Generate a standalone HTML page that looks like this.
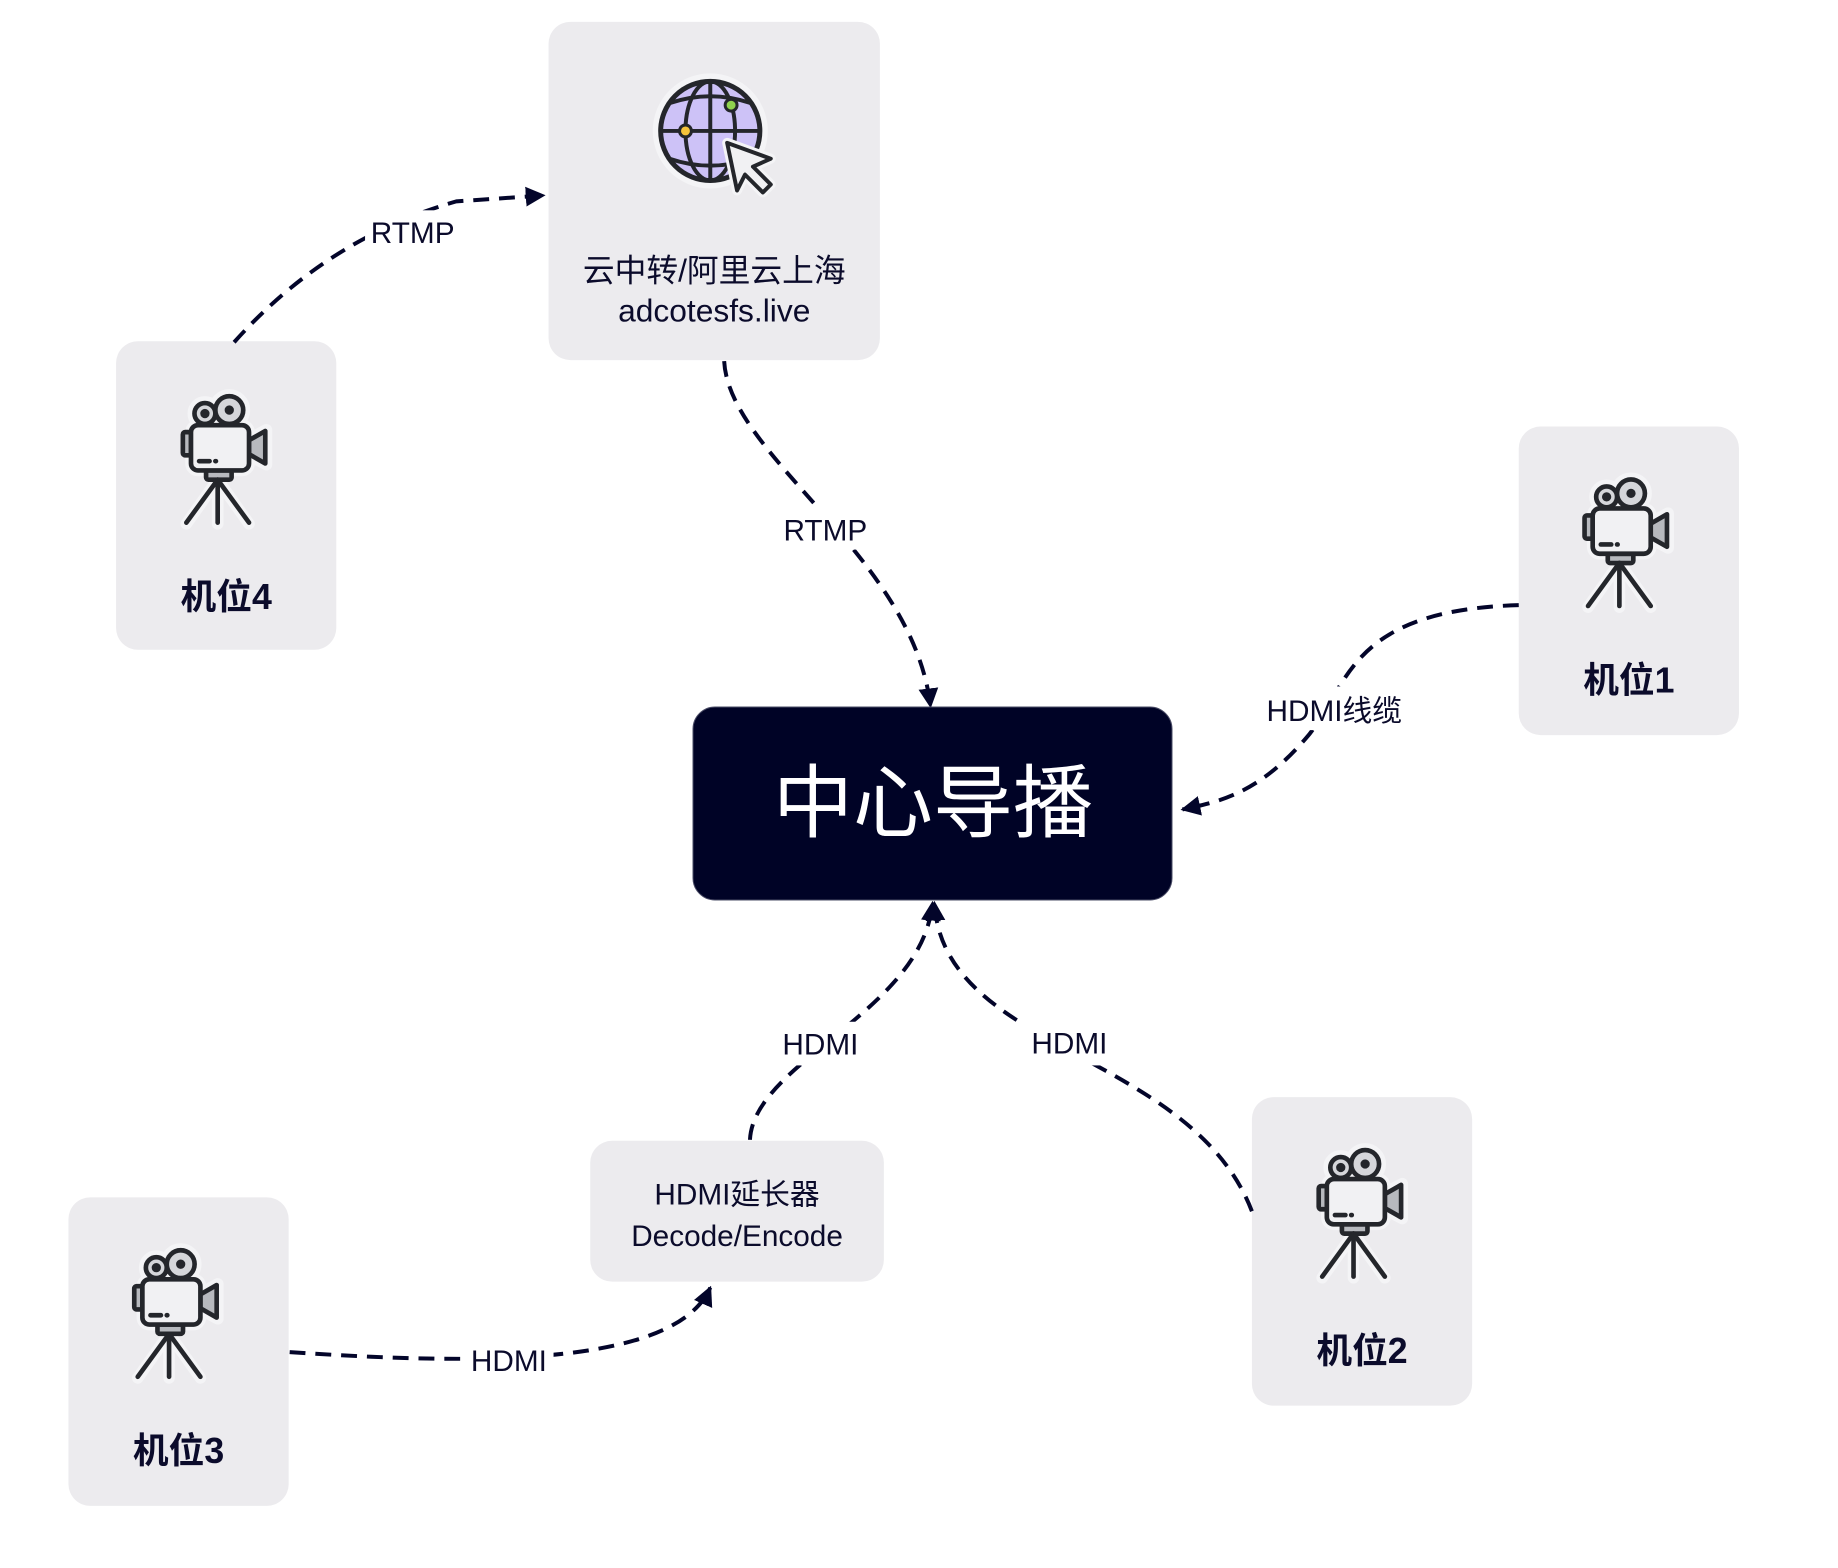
<!DOCTYPE html>
<html><head><meta charset="utf-8"><style>
html,body{margin:0;padding:0;background:#fff;}
svg{display:block;}
text{font-family:"Liberation Sans","Noto Sans CJK SC",sans-serif;fill:#0b0b2b;}
</style></head><body>
<svg width="1838" height="1568" viewBox="0 0 1838 1568" xmlns="http://www.w3.org/2000/svg">
<defs>
<marker id="ah" viewBox="0 0 10 10" refX="9" refY="5" markerWidth="5" markerHeight="5" orient="auto-start-reverse" markerUnits="strokeWidth">
<path d="M0,0 L10,5 L0,10 z" fill="#03052a"/>
</marker>
<g id="cam">
<g stroke="#f4f4f6" stroke-width="10" stroke-linecap="round" stroke-linejoin="round" fill="#f4f4f6">
<circle cx="21" cy="17" r="10"/><circle cx="42" cy="14" r="13"/>
<rect x="9" y="27" width="50" height="39" rx="6"/>
<path d="M59 39 L74 31 L74 61 L59 53 z"/>
<line x1="32" y1="74" x2="5" y2="112"/><line x1="32" y1="74" x2="32" y2="112"/><line x1="32" y1="74" x2="59" y2="112"/>
</g>
<g stroke="#24262b" stroke-width="4" stroke-linecap="round" stroke-linejoin="round">
<circle cx="21" cy="17" r="9" fill="#d5d6da"/><circle cx="42" cy="14" r="12" fill="#d5d6da"/>
<circle cx="21" cy="17" r="2" fill="#24262b"/><circle cx="42" cy="14" r="2" fill="#24262b"/>
<rect x="2" y="33" width="7" height="20" rx="2" fill="#b7b9be"/>
<path d="M59 40 L73 32 L73 60 L59 52 z" fill="#b7b9be"/>
<rect x="22" y="66" width="22" height="8" rx="2" fill="#b7b9be"/>
<line x1="32" y1="74" x2="5" y2="111"/><line x1="32" y1="74" x2="32" y2="111"/><line x1="32" y1="74" x2="59" y2="111"/>
<rect x="9" y="27" width="50" height="39" rx="6" fill="#f1f1f3"/>
<line x1="16" y1="58" x2="25" y2="58"/><line x1="30" y1="58" x2="30.5" y2="58"/>
</g>
</g>
</defs>
<g transform="scale(0.992)">
<rect x="553" y="22" width="334" height="341" rx="22" fill="#ecebee"/>
<rect x="117" y="344" width="222" height="311" rx="22" fill="#ecebee"/>
<rect x="1531" y="430" width="222" height="311" rx="22" fill="#ecebee"/>
<rect x="1262" y="1106" width="222" height="311" rx="22" fill="#ecebee"/>
<rect x="69" y="1207" width="222" height="311" rx="22" fill="#ecebee"/>
<rect x="595" y="1150" width="296" height="142" rx="22" fill="#ecebee"/>

<use href="#cam" transform="translate(182,397) scale(1.17)"/>
<use href="#cam" transform="translate(1595,481) scale(1.17)"/>
<use href="#cam" transform="translate(1327,1157) scale(1.17)"/>
<use href="#cam" transform="translate(133,1258) scale(1.17)"/>

<g transform="translate(5,0)">
<circle cx="711" cy="132" r="58" fill="#f4f4f6"/>
<circle cx="711" cy="132" r="50" fill="#cdc2f7" stroke="#24262b" stroke-width="5"/>
<g stroke="#24262b" stroke-width="4" fill="none">
<line x1="711" y1="82" x2="711" y2="182"/>
<line x1="661" y1="132" x2="761" y2="132"/>
<ellipse cx="711" cy="132" rx="25" ry="50"/>
<path d="M670 104 Q711 90 752 104"/>
<path d="M670 160 Q711 174 752 160"/>
</g>
<circle cx="686" cy="132" r="6" fill="#f5c33b" stroke="#24262b" stroke-width="3"/>
<circle cx="732" cy="106" r="6" fill="#8fd14f" stroke="#24262b" stroke-width="3"/>
<path d="M728 144 L772 160 L754 168 L772 186 L764 194 L746 176 L738 192 z" fill="#f1f1f3" stroke="#f4f4f6" stroke-width="10" stroke-linejoin="round"/>
<path d="M728 144 L772 160 L754 168 L772 186 L764 194 L746 176 L738 192 z" fill="#f1f1f3" stroke="#24262b" stroke-width="4" stroke-linejoin="round"/>
</g>

<g fill="none" stroke="#03052a" stroke-width="4" stroke-dasharray="16 10">
<path d="M236 345 Q330 240 460 203 L548 197" marker-end="url(#ah)"/>
<path d="M730 364 C735 460 920 560 938 712" marker-end="url(#ah)"/>
<path d="M1531 610 C1360 615 1360 690 1320 740 C1270 800 1230 808 1192 816" marker-end="url(#ah)"/>
<path d="M756 1149 C760 1070 930 1020 940 910" marker-end="url(#ah)"/>
<path d="M1262 1221 C1200 1060 950 1060 942 910" marker-end="url(#ah)"/>
<path d="M292 1363 C470 1375 680 1380 716 1298" marker-end="url(#ah)"/>
</g>

<g font-size="30" text-anchor="middle">
<rect x="368" y="212" width="96" height="40" fill="#fff"/>
<text x="416" y="245">RTMP</text>
<rect x="782" y="510" width="100" height="44" fill="#fff"/>
<text x="832" y="545">RTMP</text>
<rect x="1265" y="692" width="160" height="44" fill="#fff"/>
<text x="1345" y="727">HDMI线缆</text>
<rect x="780" y="1030" width="94" height="44" fill="#fff"/>
<text x="827" y="1063">HDMI</text>
<rect x="1030" y="1030" width="96" height="44" fill="#fff"/>
<text x="1078" y="1062">HDMI</text>
<rect x="468" y="1350" width="90" height="40" fill="#fff"/>
<text x="513" y="1382">HDMI</text>
</g>

<g text-anchor="middle">
<text x="720" y="284" font-size="32">云中转/阿里云上海</text>
<text x="720" y="324" font-size="32">adcotesfs.live</text>
<text x="228" y="614" font-size="36" font-weight="bold">机位4</text>
<text x="1642" y="698" font-size="36" font-weight="bold">机位1</text>
<text x="1373" y="1374" font-size="36" font-weight="bold">机位2</text>
<text x="180" y="1475" font-size="36" font-weight="bold">机位3</text>
<text x="743" y="1214" font-size="30">HDMI延长器</text>
<text x="743" y="1256" font-size="30">Decode/Encode</text>
</g>
</g>
<rect x="693" y="707" width="479" height="193" rx="22" fill="#000326" stroke="#4a4c66" stroke-width="1"/>
<text x="933" y="831" font-size="80" text-anchor="middle" style="fill:#fff">中心导播</text>
</svg>
</body></html>
